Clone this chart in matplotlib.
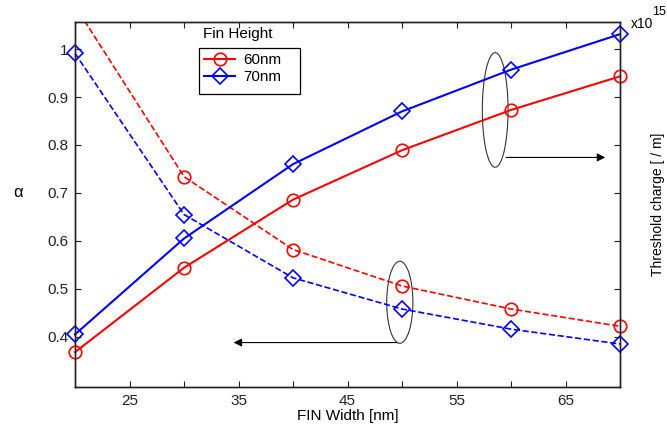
import matplotlib
matplotlib.use("Agg")
import matplotlib.pyplot as plt
from matplotlib.patches import Ellipse, Rectangle
from matplotlib.lines import Line2D

# FIN width [nm]
fin_width = [20, 30, 40, 50, 60, 70]

# alpha (left axis, dashed)
alpha_60 = [1.09, 0.734, 0.582, 0.506, 0.458, 0.422]
alpha_70 = [0.991, 0.655, 0.523, 0.458, 0.416, 0.385]

# threshold charge (right axis, x1e15 /m, solid)
qth_60 = [0.368, 0.544, 0.686, 0.789, 0.873, 0.943]
qth_70 = [0.405, 0.605, 0.760, 0.870, 0.957, 1.031]

x_ticks = [25, 30, 35, 40, 45, 50, 55, 60, 65]
x_ticklabels = ["25", "", "35", "", "45", "", "55", "", "65"]
y_ticks = [0.4, 0.5, 0.6, 0.7, 0.8, 0.9, 1.0]
y_ticklabels = ["0.4", "0.5", "0.6", "0.7", "0.8", "0.9", "1"]

plt.rcParams["font.family"] = ["Liberation Sans", "DejaVu Sans"]
plt.rcParams["font.size"] = 11

W, H = 667, 434
fig = plt.figure(figsize=(W / 100, H / 100), dpi=100)
ax = fig.add_axes([75 / W, 1 - 386.7 / H, 545 / W, 365 / H])
ax2 = ax.twinx()

ylim = (0.296, 1.057)
ax.set_xlim(20, 70)
ax.set_ylim(*ylim)
ax2.set_ylim(*ylim)

red, blue = "#ff0000", "#0000ff"
circ = dict(marker="o", markerfacecolor="none", markeredgewidth=1.2, markersize=9)
diam = dict(marker="D", markerfacecolor="none", markeredgewidth=1.2, markersize=8.5)

# dashed: alpha (first red point is above the axes -> clip the line, not the other markers)
ax.plot(fin_width, alpha_60, "--", color=red, lw=1.2)
ax.plot(fin_width, alpha_60, ls="none", color=red, markevery=slice(1, None),
        clip_on=False, **circ)
ax.plot(fin_width, alpha_70, "--", color=blue, lw=1.2, clip_on=False, **diam)

# solid: threshold charge
ax2.plot(fin_width, qth_60, "-", color=red, lw=1.5, clip_on=False, **circ)
ax2.plot(fin_width, qth_70, "-", color=blue, lw=1.5, clip_on=False, **diam)

for a in (ax, ax2):
    for s in a.spines.values():
        s.set_linewidth(1.0)
        s.set_color("#222222")

ax.set_xticks(x_ticks)
ax.set_xticklabels(x_ticklabels)
ax.set_yticks(y_ticks)
ax.set_yticklabels(y_ticklabels)
ax.tick_params(direction="in", length=4, top=True, right=False, labelsize=11,
               colors="#222222", pad=5)
ax2.set_yticks(y_ticks)
ax2.set_yticklabels([])
ax2.tick_params(direction="in", length=4, colors="#222222")

ax.set_xlabel("FIN Width [nm]", fontsize=11, labelpad=1)
fig.text(18 / W, 1 - 192 / H, "\u03b1", fontsize=12, ha="center", va="center")
fig.text(658 / W, 1 - 204 / H, "Threshold charge [ / m]", rotation=90,
         fontsize=10, ha="center", va="center")
fig.text(631 / W, 1 - 24 / H, "x10", fontsize=10, ha="left", va="center")
fig.text(652 / W, 1 - 12 / H, "15", fontsize=9, ha="left", va="center")

# ellipses + arrows
ax.add_patch(Ellipse((49.8, 0.472), 2.4, 0.171, fill=False, lw=0.8, color="#333333"))
ax.annotate("", xy=(34.3, 0.388), xytext=(49.8, 0.388),
            arrowprops=dict(arrowstyle="-|>", color="k", lw=0.8, mutation_scale=12))
ax.add_patch(Ellipse((58.55, 0.873), 2.36, 0.239, fill=False, lw=0.8, color="#333333"))
ax.annotate("", xy=(68.9, 0.774), xytext=(59.3, 0.774),
            arrowprops=dict(arrowstyle="-|>", color="k", lw=0.8, mutation_scale=12))

# legend: entries without frame, box drawn separately (original box has an empty 3rd row)
handles = [
    Line2D([], [], color=red, lw=1.5, **circ),
    Line2D([], [], color=blue, lw=1.5, **diam),
]
leg = fig.legend(handles, ["60nm", "70nm"], loc="upper left",
                 bbox_to_anchor=(199 / W, 1 - 47.7 / H), borderaxespad=0,
                 frameon=False, handlelength=2.0, labelspacing=0.2,
                 borderpad=0.35, fontsize=11, handletextpad=0.55)
fig.patches.append(Rectangle((199 / W, 1 - 94.3 / H), 101 / W, 46.6 / H,
                             transform=fig.transFigure, fill=True, facecolor="white",
                             edgecolor="black", lw=0.9, zorder=4))
leg.set_zorder(5)
fig.text(203 / W, 1 - 34 / H, "Fin Height", fontsize=11, ha="left", va="center")

fig.savefig("out.png", dpi=100)
